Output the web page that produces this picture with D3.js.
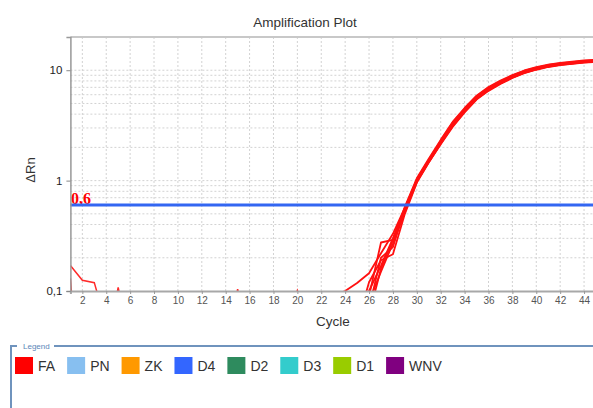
<!DOCTYPE html>
<html>
<head>
<meta charset="utf-8">
<script src="https://cdn.jsdelivr.net/npm/d3@7"></script>
<style>
  html, body { margin: 0; padding: 0; background: #fff; }
  svg { display: block; font-family: "Liberation Sans", Arial, sans-serif; }
</style>
</head>
<body>
<svg id="chart" width="593" height="408"></svg>
<script>
// Amplification plot: ΔRn per cycle on a log axis, with the detection threshold.

const threshold = 0.6;
const thresholdLabel = "0,6";

// Cycles covered by the amplification traces.
const ampCycles = [22, 23, 24, 25, 26, 27, 28, 29, 30, 31, 32, 33, 34, 35, 36, 37, 38, 39, 40, 41, 42, 43, 44, 45];

// ΔRn of each amplifying well (FA target), one array per well.
const wellA = [0.08, 0.09, 0.10, 0.118, 0.145, 0.22, 0.33, 0.57, 1.00, 1.52, 2.25, 3.25, 4.35, 5.65, 6.80, 7.80, 8.80, 9.70, 10.40, 11.00, 11.40, 11.70, 12.00, 12.20];
const wellB = [0.02, 0.025, 0.03, 0.045, 0.09, 0.275, 0.29, 0.54, 0.98, 1.48, 2.16, 3.12, 4.20, 5.48, 6.58, 7.58, 8.58, 9.48, 10.18, 10.78, 11.18, 11.48, 11.78, 11.98];
const wellC = [0.02, 0.025, 0.03, 0.05, 0.12, 0.19, 0.215, 0.50, 0.96, 1.46, 2.13, 3.06, 4.14, 5.42, 6.50, 7.50, 8.50, 9.40, 10.10, 10.70, 11.10, 11.40, 11.70, 11.90];
const wellD = [0.02, 0.02, 0.03, 0.04, 0.10, 0.17, 0.30, 0.56, 1.03, 1.55, 2.30, 3.36, 4.48, 5.80, 6.95, 7.95, 8.95, 9.85, 10.55, 11.15, 11.55, 11.85, 12.15, 12.35];
const wellE = [0.01, 0.015, 0.02, 0.03, 0.08, 0.15, 0.27, 0.52, 0.97, 1.47, 2.17, 3.15, 4.25, 5.50, 6.62, 7.62, 8.62, 9.52, 10.22, 10.82, 11.22, 11.52, 11.82, 12.02];
const wellF = [0.01, 0.015, 0.02, 0.03, 0.07, 0.20, 0.25, 0.55, 1.00, 1.51, 2.21, 3.21, 4.31, 5.61, 6.72, 7.72, 8.72, 9.62, 10.32, 10.92, 11.32, 11.62, 11.92, 12.12];
const wellG = [0.01, 0.01, 0.015, 0.02, 0.06, 0.16, 0.29, 0.58, 1.05, 1.58, 2.34, 3.40, 4.55, 5.88, 7.05, 8.05, 9.05, 9.95, 10.65, 11.25, 11.65, 11.95, 12.25, 12.45];

// Early-cycle baseline noise of the non-amplifying wells.
const noiseCycles = [1, 2, 3, 4, 5, 6, 7, 8, 9, 10, 11, 12, 13, 14, 15, 16, 17, 18, 19, 20, 21, 22, 23, 24];
const noiseA = [0.17, 0.125, 0.119, 0.05, 0.04, 0.03, 0.03, 0.02, 0.02, 0.02, 0.02, 0.02, 0.02, 0.02, 0.02, 0.02, 0.02, 0.02, 0.02, 0.02, 0.02, 0.02, 0.02, 0.02];
const noiseB = [0.13, 0.005, 0.005, 0.005, 0.005, 0.005, 0.005, 0.005, 0.005, 0.005, 0.005, 0.005, 0.005, 0.005, 0.005, 0.005, 0.005, 0.005, 0.005, 0.005, 0.005, 0.005, 0.005, 0.005];
const noiseC = [0.03, 0.03, 0.03, 0.03, 0.108, 0.03, 0.03, 0.03, 0.03, 0.03, 0.03, 0.03, 0.03, 0.03, 0.104, 0.03, 0.03, 0.03, 0.05, 0.101, 0.05, 0.03, 0.03, 0.03];

const ampWells = [wellA, wellB, wellC, wellD, wellE, wellF, wellG];
const noiseWells = [noiseA, noiseB, noiseC];

// Axis ticks.
const xTickValues = [2, 4, 6, 8, 10, 12, 14, 16, 18, 20, 22, 24, 26, 28, 30, 32, 34, 36, 38, 40, 42, 44];
const yTickValues = [0.1, 1, 10];
const yTickLabels = ["0,1", "1", "10"];
const yGridValues = [0.2, 0.3, 0.4, 0.5, 0.6, 0.7, 0.8, 0.9, 1, 2, 3, 4, 5, 6, 7, 8, 9, 10];

// Legend entries.
const targets = ["FA", "PN", "ZK", "D4", "D2", "D3", "D1", "WNV"];
const targetColors = ["#ff0000", "#87bff0", "#ff9900", "#3366ff", "#2e8b5e", "#33cccc", "#99cc00", "#800080"];

const svg = d3.select("#chart");
const W = 593, H = 408;
const plot = { left: 70.4, top: 37, right: 596, bottom: 291 };

svg.append("rect").attr("width", W).attr("height", H).attr("fill", "#fff");

const x = d3.scaleLinear().domain([1, 45]).range([plot.left, plot.right]);
const y = d3.scaleLog().domain([0.1, 20]).range([plot.bottom, plot.top]);

// Title
svg.append("text")
  .attr("x", 305).attr("y", 27)
  .attr("text-anchor", "middle")
  .attr("font-size", 13.5).attr("fill", "#333")
  .text("Amplification Plot");

// Grid
const grid = svg.append("g").attr("stroke", "#d2d2d2").attr("stroke-width", 1).attr("stroke-dasharray", "2,2");
grid.selectAll("line.v").data(xTickValues).join("line")
  .attr("class", "v")
  .attr("x1", d => x(d)).attr("x2", d => x(d))
  .attr("y1", plot.top).attr("y2", plot.bottom);
grid.selectAll("line.h").data(yGridValues).join("line")
  .attr("class", "h")
  .attr("x1", plot.left).attr("x2", plot.right)
  .attr("y1", d => y(d)).attr("y2", d => y(d));

// Top border
svg.append("line")
  .attr("x1", plot.left).attr("x2", plot.right)
  .attr("y1", plot.top).attr("y2", plot.top)
  .attr("stroke", "#c8c8c8").attr("stroke-width", 2);

// Clip for the traces
svg.append("clipPath").attr("id", "plotClip")
  .append("rect")
  .attr("x", plot.left).attr("y", plot.top)
  .attr("width", plot.right - plot.left).attr("height", plot.bottom - plot.top);

const traces = svg.append("g").attr("clip-path", "url(#plotClip)");
const lineAmp = d3.line().x((d, i) => x(ampCycles[i])).y(d => y(d));
const lineNoise = d3.line().x((d, i) => x(noiseCycles[i])).y(d => y(d));

traces.selectAll("path.noise").data(noiseWells).join("path")
  .attr("class", "noise")
  .attr("d", lineNoise)
  .attr("fill", "none").attr("stroke", "#ff2a2a").attr("stroke-width", 1.5);

traces.selectAll("path.amp").data(ampWells).join("path")
  .attr("class", "amp")
  .attr("d", lineAmp)
  .attr("fill", "none").attr("stroke", "#ff1010").attr("stroke-width", 1.8)
  .attr("stroke-linejoin", "round");

// Threshold label and line
svg.append("text")
  .attr("x", 71).attr("y", 204)
  .attr("font-family", "'Liberation Serif', 'Times New Roman', serif")
  .attr("font-weight", "bold").attr("font-size", 16)
  .attr("fill", "#ff0000")
  .text(thresholdLabel);
svg.append("line")
  .attr("x1", plot.left).attr("x2", W)
  .attr("y1", y(threshold)).attr("y2", y(threshold))
  .attr("stroke", "#3366f2").attr("stroke-width", 3);

// Axes
const xAxis = d3.axisBottom(x).tickValues(xTickValues).tickSize(3).tickPadding(3).tickFormat(d3.format("d"));
const gx = svg.append("g").attr("transform", `translate(0,${plot.bottom})`).call(xAxis);
gx.select(".domain").attr("stroke", "#a8a8a8").attr("stroke-width", 2);
gx.selectAll(".tick line").attr("stroke", "#999");
gx.selectAll(".tick text").attr("font-size", 10).attr("fill", "#555").attr("font-family", "'Liberation Sans', Arial, sans-serif");

const yAxis = d3.axisLeft(y).tickValues(yTickValues).tickSize(4).tickPadding(4)
  .tickFormat((d, i) => yTickLabels[i]);
const gy = svg.append("g").attr("transform", `translate(${plot.left},0)`).call(yAxis);
gy.select(".domain").attr("stroke", "#999").attr("stroke-width", 1.5);
gy.selectAll(".tick line").attr("stroke", "#888");
gy.selectAll(".tick text").attr("font-size", 11.5).attr("fill", "#222").attr("font-family", "'Liberation Sans', Arial, sans-serif");

// Axis titles
svg.append("text")
  .attr("x", 333).attr("y", 326)
  .attr("text-anchor", "middle")
  .attr("font-size", 13.5).attr("fill", "#333")
  .text("Cycle");
svg.append("text")
  .attr("transform", "translate(35,170) rotate(-90)")
  .attr("text-anchor", "middle")
  .attr("font-size", 13).attr("fill", "#333")
  .text("ΔRn");

// Legend frame
const legendColor = "#6f93bd";
svg.append("path")
  .attr("d", `M17,346 H11 V408 M54,346 H${W}`)
  .attr("fill", "none").attr("stroke", legendColor).attr("stroke-width", 2);
svg.append("text")
  .attr("x", 23).attr("y", 349)
  .attr("font-size", 8).attr("fill", "#5b86b8")
  .text("Legend");

// Legend entries
let lx = 15;
targets.forEach((name, i) => {
  svg.append("rect")
    .attr("x", lx).attr("y", 357)
    .attr("width", 18).attr("height", 17)
    .attr("fill", targetColors[i]);
  const t = svg.append("text")
    .attr("x", lx + 23).attr("y", 371)
    .attr("font-size", 14).attr("fill", "#333")
    .text(name);
  lx += 23 + t.node().getComputedTextLength() + 12;
});
</script>
</body>
</html>
